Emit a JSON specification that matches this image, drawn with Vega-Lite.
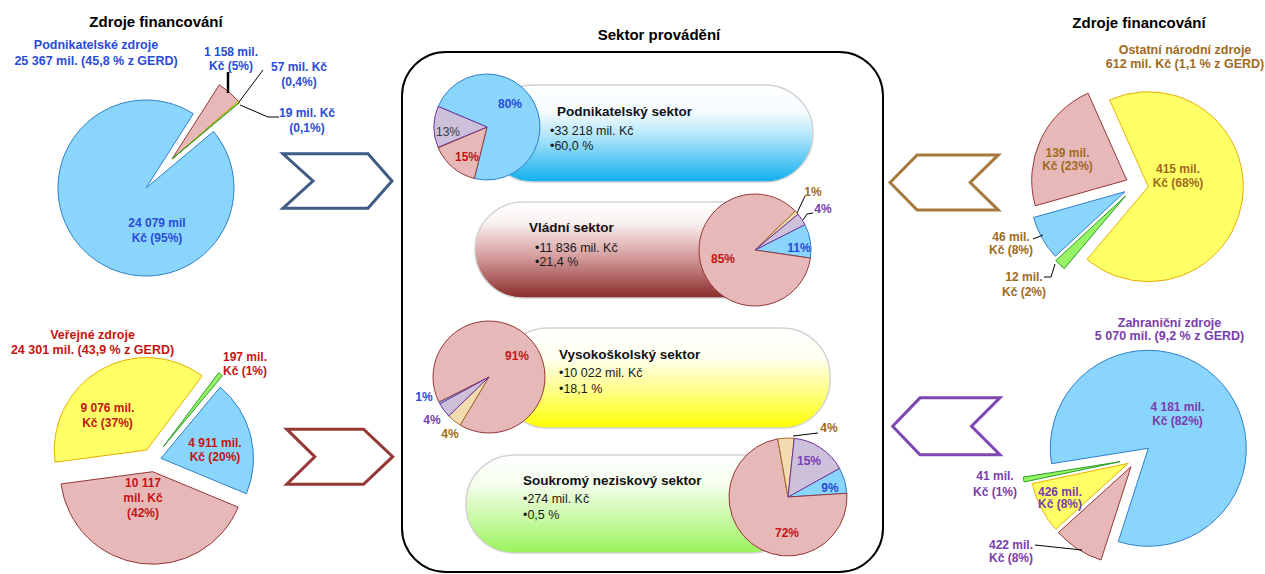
{
"$schema":"https://vega.github.io/schema/vega-lite/v6.json",
"width":1265,"height":574,"padding":0,
"autosize":{"type":"fit","contains":"padding"},
"background":"#ffffff",
"config":{"view":{"stroke":null},"legend":{"disable":true},"axis":{"disable":true},"font":"Liberation Sans","text":{"font":"Liberation Sans"}},
"datasets":{
"flows":[
{"source":"Podnikatelské zdroje","sector":"Podnikatelský sektor","value":24079,"sector_rank":2,"source_rank":2,"outer":"24 079 mil\nKč (95%)","inner":"80%"},
{"source":"Podnikatelské zdroje","sector":"Vládní sektor","value":1158,"sector_rank":3,"source_rank":2,"outer":"1 158 mil.\nKč (5%)","inner":"11%"},
{"source":"Podnikatelské zdroje","sector":"Vysokoškolský sektor","value":57,"sector_rank":0,"source_rank":2,"outer":"57 mil. Kč\n(0,4%)","inner":"1%"},
{"source":"Podnikatelské zdroje","sector":"Soukromý neziskový sektor","value":19,"sector_rank":1,"source_rank":2,"outer":"19 mil. Kč\n(0,1%)","inner":"9%"},
{"source":"Veřejné zdroje","sector":"Podnikatelský sektor","value":4911,"sector_rank":2,"source_rank":3,"outer":"4 911 mil.\nKč (20%)","inner":"15%"},
{"source":"Veřejné zdroje","sector":"Vládní sektor","value":10117,"sector_rank":3,"source_rank":3,"outer":"10 117\nmil. Kč\n(42%)","inner":"85%"},
{"source":"Veřejné zdroje","sector":"Vysokoškolský sektor","value":9076,"sector_rank":0,"source_rank":3,"outer":"9 076 mil.\nKč (37%)","inner":"91%"},
{"source":"Veřejné zdroje","sector":"Soukromý neziskový sektor","value":197,"sector_rank":1,"source_rank":3,"outer":"197 mil.\nKč (1%)","inner":"72%"},
{"source":"Ostatní národní zdroje","sector":"Podnikatelský sektor","value":46,"sector_rank":2,"source_rank":0,"outer":"46 mil.\nKč (8%)","inner":""},
{"source":"Ostatní národní zdroje","sector":"Vládní sektor","value":139,"sector_rank":3,"source_rank":0,"outer":"139 mil.\nKč (23%)","inner":"1%"},
{"source":"Ostatní národní zdroje","sector":"Vysokoškolský sektor","value":415,"sector_rank":0,"source_rank":0,"outer":"415 mil.\nKč (68%)","inner":"4%"},
{"source":"Ostatní národní zdroje","sector":"Soukromý neziskový sektor","value":12,"sector_rank":1,"source_rank":0,"outer":"12 mil.\nKč (2%)","inner":"4%"},
{"source":"Zahraniční zdroje","sector":"Podnikatelský sektor","value":4181,"sector_rank":2,"source_rank":1,"outer":"4 181 mil.\nKč (82%)","inner":"13%"},
{"source":"Zahraniční zdroje","sector":"Vládní sektor","value":422,"sector_rank":3,"source_rank":1,"outer":"422 mil.\nKč (8%)","inner":"4%"},
{"source":"Zahraniční zdroje","sector":"Vysokoškolský sektor","value":426,"sector_rank":0,"source_rank":1,"outer":"426 mil.\nKč (8%)","inner":"4%"},
{"source":"Zahraniční zdroje","sector":"Soukromý neziskový sektor","value":41,"sector_rank":1,"source_rank":1,"outer":"41 mil.\nKč (1%)","inner":"15%"}
],
"sources":[
{"source":"Podnikatelské zdroje","heading":"Podnikatelské zdroje\n25 367 mil. (45,8 % z GERD)"},
{"source":"Veřejné zdroje","heading":"Veřejné zdroje\n24 301 mil. (43,9 % z GERD)"},
{"source":"Ostatní národní zdroje","heading":"Ostatní národní  zdroje\n612 mil. Kč (1,1 % z GERD)"},
{"source":"Zahraniční zdroje","heading":"Zahraniční zdroje\n5 070 mil. (9,2 % z GERD)"}
],
"sectors":[
{"sector":"Podnikatelský sektor","bullets":"•33 218 mil. Kč\n•60,0 %"},
{"sector":"Vládní sektor","bullets":"•11 836 mil. Kč\n•21,4  %"},
{"sector":"Vysokoškolský sektor","bullets":"•10 022 mil. Kč\n•18,1 %"},
{"sector":"Soukromý neziskový sektor","bullets":"•274 mil. Kč\n•0,5 %"}
],
"headers":[
{"key":"src_left","text":"Zdroje financování"},
{"key":"perf","text":"Sektor provádění"},
{"key":"src_right","text":"Zdroje financování"}
],
"frame":[{"item":"decor"}]
},
"resolve":{"scale":{"theta":"independent"}},
"layer":[
{"data":{"name":"frame"},"mark":{"type":"rect","cornerRadius":44,"fill":"#ffffff","stroke":"#000000","strokeWidth":2},"encoding":{"x":{"datum":402,"type":"quantitative","scale":{"domain":[0,1265],"nice":false,"zero":false},"axis":null},"x2":{"datum":883},"y":{"datum":52,"type":"quantitative","scale":{"domain":[0,574],"nice":false,"zero":false,"reverse":true},"axis":null},"y2":{"datum":572}}},

{"data":{"name":"sectors"},"transform":[{"filter":"datum.sector==='Podnikatelský sektor'"}],"mark":{"type":"rect","cornerRadius":48,"stroke":"#d2d2d2","strokeWidth":1.5,"fill":{"gradient":"linear","x1":0,"y1":0,"x2":0,"y2":1,"stops":[{"offset":0,"color":"#ffffff"},{"offset":0.28,"color":"#f4fcff"},{"offset":0.5,"color":"#b8e8fb"},{"offset":1,"color":"#10afee"}]}},"encoding":{"x":{"datum":485},"x2":{"datum":813},"y":{"datum":85},"y2":{"datum":182}}},
{"data":{"name":"sectors"},"transform":[{"filter":"datum.sector==='Vládní sektor'"}],"mark":{"type":"rect","cornerRadius":48,"stroke":"#d2d2d2","strokeWidth":1.5,"fill":{"gradient":"linear","x1":0,"y1":0,"x2":0,"y2":1,"stops":[{"offset":0,"color":"#ffffff"},{"offset":0.2,"color":"#fbf3f3"},{"offset":0.55,"color":"#d8a2a2"},{"offset":1,"color":"#8a2a2a"}]}},"encoding":{"x":{"datum":475},"x2":{"datum":792},"y":{"datum":202},"y2":{"datum":298}}},
{"data":{"name":"sectors"},"transform":[{"filter":"datum.sector==='Vysokoškolský sektor'"}],"mark":{"type":"rect","cornerRadius":48,"stroke":"#d2d2d2","strokeWidth":1.5,"fill":{"gradient":"linear","x1":0,"y1":0,"x2":0,"y2":1,"stops":[{"offset":0,"color":"#ffffff"},{"offset":0.3,"color":"#fffff0"},{"offset":0.65,"color":"#ffff80"},{"offset":1,"color":"#ffff00"}]}},"encoding":{"x":{"datum":500},"x2":{"datum":830},"y":{"datum":328},"y2":{"datum":428}}},
{"data":{"name":"sectors"},"transform":[{"filter":"datum.sector==='Soukromý neziskový sektor'"}],"mark":{"type":"rect","cornerRadius":48,"stroke":"#d2d2d2","strokeWidth":1.5,"fill":{"gradient":"linear","x1":0,"y1":0,"x2":0,"y2":1,"stops":[{"offset":0,"color":"#ffffff"},{"offset":0.3,"color":"#f4fdec"},{"offset":0.65,"color":"#c8f9a4"},{"offset":1,"color":"#98f35c"}]}},"encoding":{"x":{"datum":466},"x2":{"datum":800},"y":{"datum":455},"y2":{"datum":553}}},

{"data":{"name":"flows"},"transform":[{"filter":"datum.sector==='Podnikatelský sektor'"}],"mark":{"type":"arc","outerRadius":53,"strokeWidth":1},"encoding":{"x":{"datum":487},"y":{"datum":127},"theta":{"field":"value","type":"quantitative","stack":"normalize","scale":{"domain":[0,1],"range":[4.311,10.5942]}},"order":{"field":"source_rank","type":"quantitative"},"color":{"field":"source","type":"nominal","scale":{"domain":["Podnikatelský sektor","Vládní sektor","Vysokoškolský sektor","Soukromý neziskový sektor","Podnikatelské zdroje","Veřejné zdroje","Ostatní národní zdroje","Zahraniční zdroje"],"range":["#8ad5fc","#e6b9b8","#ffff66","#96f564","#8ad5fc","#e6b9b8","#f3dbb0","#ccc0da"]}},"stroke":{"field":"source","type":"nominal","scale":{"domain":["Podnikatelský sektor","Vládní sektor","Vysokoškolský sektor","Soukromý neziskový sektor","Podnikatelské zdroje","Veřejné zdroje","Ostatní národní zdroje","Zahraniční zdroje"],"range":["#2f7fcf","#953735","#e8b000","#2a9d2a","#2f7fcf","#953735","#a56f28","#7030a0"]}}}},
{"data":{"name":"flows"},"transform":[{"filter":"datum.sector==='Vládní sektor'"}],"mark":{"type":"arc","outerRadius":56,"strokeWidth":1},"encoding":{"x":{"datum":755},"y":{"datum":250},"theta":{"field":"value","type":"quantitative","stack":"normalize","scale":{"domain":[0,1],"range":[0.8029,7.0861]}},"order":{"field":"source_rank","type":"quantitative"},"color":{"field":"source","type":"nominal"},"stroke":{"field":"source","type":"nominal"}}},
{"data":{"name":"flows"},"transform":[{"filter":"datum.sector==='Vysokoškolský sektor'"}],"mark":{"type":"arc","outerRadius":56,"strokeWidth":1},"encoding":{"x":{"datum":489},"y":{"datum":377},"theta":{"field":"value","type":"quantitative","stack":"normalize","scale":{"domain":[0,1],"range":[3.6826,9.9658]}},"order":{"field":"source_rank","type":"quantitative"},"color":{"field":"source","type":"nominal"},"stroke":{"field":"source","type":"nominal"}}},
{"data":{"name":"flows"},"transform":[{"filter":"datum.sector==='Soukromý neziskový sektor'"}],"mark":{"type":"arc","outerRadius":59,"strokeWidth":1},"encoding":{"x":{"datum":788},"y":{"datum":497},"theta":{"field":"value","type":"quantitative","stack":"normalize","scale":{"domain":[0,1],"range":[6.1087,12.3919]}},"order":{"field":"source_rank","type":"quantitative"},"color":{"field":"source","type":"nominal"},"stroke":{"field":"source","type":"nominal"}}},

{"data":{"name":"flows"},"transform":[{"filter":"datum.source==='Podnikatelské zdroje'"}],"mark":{"type":"arc","outerRadius":88,"strokeWidth":1},"encoding":{"x":{"datum":146},"y":{"datum":188},"theta":{"field":"value","type":"quantitative","stack":"normalize","scale":{"domain":[0,1],"range":[0.8552,7.1384]}},"order":{"field":"sector_rank","type":"quantitative"},"color":{"field":"sector","type":"nominal"},"stroke":{"field":"sector","type":"nominal"},"opacity":{"condition":{"test":"datum.sector==='Podnikatelský sektor'","value":1},"value":0}}},
{"data":{"name":"flows"},"transform":[{"filter":"datum.source==='Podnikatelské zdroje'"}],"mark":{"type":"arc","outerRadius":88,"strokeWidth":1},"encoding":{"x":{"datum":172},"y":{"datum":159},"theta":{"field":"value","type":"quantitative","stack":"normalize","scale":{"domain":[0,1],"range":[0.8552,7.1384]}},"order":{"field":"sector_rank","type":"quantitative"},"color":{"field":"sector","type":"nominal"},"stroke":{"field":"sector","type":"nominal"},"opacity":{"condition":{"test":"datum.sector!=='Podnikatelský sektor'","value":1},"value":0}}},

{"data":{"name":"flows"},"transform":[{"filter":"datum.source==='Veřejné zdroje'"}],"mark":{"type":"arc","outerRadius":92.5,"strokeWidth":1},"encoding":{"x":{"datum":146.7},"y":{"datum":450},"theta":{"field":"value","type":"quantitative","stack":"normalize","scale":{"domain":[0,1],"range":[4.5797,10.8629]}},"order":{"field":"sector_rank","type":"quantitative"},"color":{"field":"sector","type":"nominal"},"stroke":{"field":"sector","type":"nominal"},"opacity":{"condition":{"test":"datum.sector==='Vysokoškolský sektor'","value":1},"value":0}}},
{"data":{"name":"flows"},"transform":[{"filter":"datum.source==='Veřejné zdroje'"}],"mark":{"type":"arc","outerRadius":92.5,"strokeWidth":1},"encoding":{"x":{"datum":163.3},"y":{"datum":446.7},"theta":{"field":"value","type":"quantitative","stack":"normalize","scale":{"domain":[0,1],"range":[4.5797,10.8629]}},"order":{"field":"sector_rank","type":"quantitative"},"color":{"field":"sector","type":"nominal"},"stroke":{"field":"sector","type":"nominal"},"opacity":{"condition":{"test":"datum.sector==='Soukromý neziskový sektor'","value":1},"value":0}}},
{"data":{"name":"flows"},"transform":[{"filter":"datum.source==='Veřejné zdroje'"}],"mark":{"type":"arc","outerRadius":92.5,"strokeWidth":1},"encoding":{"x":{"datum":161},"y":{"datum":458.3},"theta":{"field":"value","type":"quantitative","stack":"normalize","scale":{"domain":[0,1],"range":[4.5797,10.8629]}},"order":{"field":"sector_rank","type":"quantitative"},"color":{"field":"sector","type":"nominal"},"stroke":{"field":"sector","type":"nominal"},"opacity":{"condition":{"test":"datum.sector==='Podnikatelský sektor'","value":1},"value":0}}},
{"data":{"name":"flows"},"transform":[{"filter":"datum.source==='Veřejné zdroje'"}],"mark":{"type":"arc","outerRadius":92.5,"strokeWidth":1},"encoding":{"x":{"datum":152.7},"y":{"datum":471.7},"theta":{"field":"value","type":"quantitative","stack":"normalize","scale":{"domain":[0,1],"range":[4.5797,10.8629]}},"order":{"field":"sector_rank","type":"quantitative"},"color":{"field":"sector","type":"nominal"},"stroke":{"field":"sector","type":"nominal"},"opacity":{"condition":{"test":"datum.sector==='Vládní sektor'","value":1},"value":0}}},

{"data":{"name":"flows"},"transform":[{"filter":"datum.source==='Ostatní národní zdroje'"}],"mark":{"type":"arc","outerRadius":95,"strokeWidth":1},"encoding":{"x":{"datum":1148.3},"y":{"datum":186.7},"theta":{"field":"value","type":"quantitative","stack":"normalize","scale":{"domain":[0,1],"range":[5.8643,12.1475]}},"order":{"field":"sector_rank","type":"quantitative"},"color":{"field":"sector","type":"nominal"},"stroke":{"field":"sector","type":"nominal"},"opacity":{"condition":{"test":"datum.sector==='Vysokoškolský sektor'","value":1},"value":0}}},
{"data":{"name":"flows"},"transform":[{"filter":"datum.source==='Ostatní národní zdroje'"}],"mark":{"type":"arc","outerRadius":95,"strokeWidth":1},"encoding":{"x":{"datum":1126.7},"y":{"datum":180},"theta":{"field":"value","type":"quantitative","stack":"normalize","scale":{"domain":[0,1],"range":[5.8643,12.1475]}},"order":{"field":"sector_rank","type":"quantitative"},"color":{"field":"sector","type":"nominal"},"stroke":{"field":"sector","type":"nominal"},"opacity":{"condition":{"test":"datum.sector==='Vládní sektor'","value":1},"value":0}}},
{"data":{"name":"flows"},"transform":[{"filter":"datum.source==='Ostatní národní zdroje'"}],"mark":{"type":"arc","outerRadius":95,"strokeWidth":1},"encoding":{"x":{"datum":1125},"y":{"datum":191.7},"theta":{"field":"value","type":"quantitative","stack":"normalize","scale":{"domain":[0,1],"range":[5.8643,12.1475]}},"order":{"field":"sector_rank","type":"quantitative"},"color":{"field":"sector","type":"nominal"},"stroke":{"field":"sector","type":"nominal"},"opacity":{"condition":{"test":"datum.sector==='Podnikatelský sektor'","value":1},"value":0}}},
{"data":{"name":"flows"},"transform":[{"filter":"datum.source==='Ostatní národní zdroje'"}],"mark":{"type":"arc","outerRadius":95,"strokeWidth":1},"encoding":{"x":{"datum":1125.5},"y":{"datum":196},"theta":{"field":"value","type":"quantitative","stack":"normalize","scale":{"domain":[0,1],"range":[5.8643,12.1475]}},"order":{"field":"sector_rank","type":"quantitative"},"color":{"field":"sector","type":"nominal"},"stroke":{"field":"sector","type":"nominal"},"opacity":{"condition":{"test":"datum.sector==='Soukromý neziskový sektor'","value":1},"value":0}}},

{"data":{"name":"flows"},"transform":[{"filter":"datum.source==='Zahraniční zdroje'"}],"mark":{"type":"arc","outerRadius":98,"strokeWidth":1},"encoding":{"x":{"datum":1148.3},"y":{"datum":448.3},"theta":{"field":"value","type":"quantitative","stack":"normalize","scale":{"domain":[0,1],"range":[3.9758,10.259]}},"order":{"field":"sector_rank","type":"quantitative"},"color":{"field":"sector","type":"nominal"},"stroke":{"field":"sector","type":"nominal"},"opacity":{"condition":{"test":"datum.sector==='Podnikatelský sektor'","value":1},"value":0}}},
{"data":{"name":"flows"},"transform":[{"filter":"datum.source==='Zahraniční zdroje'"}],"mark":{"type":"arc","outerRadius":98,"strokeWidth":1},"encoding":{"x":{"datum":1131},"y":{"datum":466.7},"theta":{"field":"value","type":"quantitative","stack":"normalize","scale":{"domain":[0,1],"range":[3.9758,10.259]}},"order":{"field":"sector_rank","type":"quantitative"},"color":{"field":"sector","type":"nominal"},"stroke":{"field":"sector","type":"nominal"},"opacity":{"condition":{"test":"datum.sector==='Vládní sektor'","value":1},"value":0}}},
{"data":{"name":"flows"},"transform":[{"filter":"datum.source==='Zahraniční zdroje'"}],"mark":{"type":"arc","outerRadius":98,"strokeWidth":1},"encoding":{"x":{"datum":1128.3},"y":{"datum":463.3},"theta":{"field":"value","type":"quantitative","stack":"normalize","scale":{"domain":[0,1],"range":[3.9758,10.259]}},"order":{"field":"sector_rank","type":"quantitative"},"color":{"field":"sector","type":"nominal"},"stroke":{"field":"sector","type":"nominal"},"opacity":{"condition":{"test":"datum.sector==='Vysokoškolský sektor'","value":1},"value":0}}},
{"data":{"name":"flows"},"transform":[{"filter":"datum.source==='Zahraniční zdroje'"}],"mark":{"type":"arc","outerRadius":98,"strokeWidth":1},"encoding":{"x":{"datum":1120},"y":{"datum":461.7},"theta":{"field":"value","type":"quantitative","stack":"normalize","scale":{"domain":[0,1],"range":[3.9758,10.259]}},"order":{"field":"sector_rank","type":"quantitative"},"color":{"field":"sector","type":"nominal"},"stroke":{"field":"sector","type":"nominal"},"opacity":{"condition":{"test":"datum.sector==='Soukromý neziskový sektor'","value":1},"value":0}}},

{"data":{"name":"sources"},"transform":[{"filter":"datum.source==='Podnikatelské zdroje'"}],"mark":{"type":"point","shape":"M-1,-0.5L0.56,-0.5L1,0L0.56,0.5L-1,0.5L-0.45,0Z","size":11881,"filled":false,"opacity":1,"stroke":"#3e5b85","strokeWidth":3,"strokeJoin":"miter"},"encoding":{"x":{"datum":337.5},"y":{"datum":181}}},
{"data":{"name":"sources"},"transform":[{"filter":"datum.source==='Veřejné zdroje'"}],"mark":{"type":"point","shape":"M-1,-0.52L0.45,-0.52L1,0L0.45,0.52L-1,0.52L-0.47,0Z","size":11236,"filled":false,"opacity":1,"stroke":"#953735","strokeWidth":3,"strokeJoin":"miter"},"encoding":{"x":{"datum":339.7},"y":{"datum":456.7}}},
{"data":{"name":"sources"},"transform":[{"filter":"datum.source==='Ostatní národní zdroje'"}],"mark":{"type":"point","shape":"M-1,0L-0.5,-0.51L1,-0.51L0.48,0L1,0.51L-0.5,0.51Z","size":11729,"filled":false,"opacity":1,"stroke":"#a8793f","strokeWidth":3,"strokeJoin":"miter"},"encoding":{"x":{"datum":944.2},"y":{"datum":182.5}}},
{"data":{"name":"sources"},"transform":[{"filter":"datum.source==='Zahraniční zdroje'"}],"mark":{"type":"point","shape":"M-1,0L-0.49,-0.53L1,-0.53L0.47,0L1,0.53L-0.49,0.53Z","size":11513,"filled":false,"opacity":1,"stroke":"#7f45b0","strokeWidth":3,"strokeJoin":"miter"},"encoding":{"x":{"datum":946.3},"y":{"datum":426.3}}},

{"data":{"name":"headers"},"transform":[{"filter":"datum.key==='src_left'"}],"mark":{"type":"text","fontWeight":"bold","fontSize":15,"color":"#000000"},"encoding":{"x":{"datum":156},"y":{"datum":21.7},"text":{"field":"text"}}},
{"data":{"name":"headers"},"transform":[{"filter":"datum.key==='perf'"}],"mark":{"type":"text","fontWeight":"bold","fontSize":15,"color":"#000000"},"encoding":{"x":{"datum":659},"y":{"datum":35},"text":{"field":"text"}}},
{"data":{"name":"headers"},"transform":[{"filter":"datum.key==='src_right'"}],"mark":{"type":"text","fontWeight":"bold","fontSize":15,"color":"#000000"},"encoding":{"x":{"datum":1139},"y":{"datum":22.7},"text":{"field":"text"}}},

{"data":{"name":"sources"},"transform":[{"filter":"datum.source==='Podnikatelské zdroje'"}],"mark":{"type":"text","fontWeight":"bold","fontSize":12.5,"color":"#2a4bd7","lineBreak":"\n","lineHeight":15.5},"encoding":{"x":{"datum":96},"y":{"datum":45},"text":{"field":"heading"}}},
{"data":{"name":"sources"},"transform":[{"filter":"datum.source==='Veřejné zdroje'"}],"mark":{"type":"text","fontWeight":"bold","fontSize":12.5,"color":"#c41414","lineBreak":"\n","lineHeight":15},"encoding":{"x":{"datum":92.5},"y":{"datum":335},"text":{"field":"heading"}}},
{"data":{"name":"sources"},"transform":[{"filter":"datum.source==='Ostatní národní zdroje'"}],"mark":{"type":"text","fontWeight":"bold","fontSize":12.5,"color":"#a06a1e","lineBreak":"\n","lineHeight":14},"encoding":{"x":{"datum":1185},"y":{"datum":50},"text":{"field":"heading"}}},
{"data":{"name":"sources"},"transform":[{"filter":"datum.source==='Zahraniční zdroje'"}],"mark":{"type":"text","fontWeight":"bold","fontSize":12.5,"color":"#7a3dac","lineBreak":"\n","lineHeight":13},"encoding":{"x":{"datum":1169.5},"y":{"datum":323.3},"text":{"field":"heading"}}},

{"data":{"name":"flows"},"transform":[{"filter":"datum.source==='Podnikatelské zdroje'&&datum.sector==='Podnikatelský sektor'"}],"mark":{"type":"text","fontWeight":"bold","fontSize":12,"color":"#2a4bd7","lineBreak":"\n","lineHeight":15},"encoding":{"x":{"datum":157},"y":{"datum":223},"text":{"field":"outer"}}},
{"data":{"name":"flows"},"transform":[{"filter":"datum.source==='Podnikatelské zdroje'&&datum.sector==='Vládní sektor'"}],"mark":{"type":"text","fontWeight":"bold","fontSize":12,"color":"#2a4bd7","lineBreak":"\n","lineHeight":13.5},"encoding":{"x":{"datum":231},"y":{"datum":52},"text":{"field":"outer"}}},
{"data":{"name":"flows"},"transform":[{"filter":"datum.source==='Podnikatelské zdroje'&&datum.sector==='Vysokoškolský sektor'"}],"mark":{"type":"text","fontWeight":"bold","fontSize":12,"color":"#2a4bd7","lineBreak":"\n","lineHeight":15},"encoding":{"x":{"datum":299},"y":{"datum":67},"text":{"field":"outer"}}},
{"data":{"name":"flows"},"transform":[{"filter":"datum.source==='Podnikatelské zdroje'&&datum.sector==='Soukromý neziskový sektor'"}],"mark":{"type":"text","fontWeight":"bold","fontSize":12,"color":"#2a4bd7","lineBreak":"\n","lineHeight":15},"encoding":{"x":{"datum":307},"y":{"datum":113},"text":{"field":"outer"}}},

{"data":{"name":"flows"},"transform":[{"filter":"datum.source==='Veřejné zdroje'&&datum.sector==='Soukromý neziskový sektor'"}],"mark":{"type":"text","fontWeight":"bold","fontSize":12,"color":"#c41414","lineBreak":"\n","lineHeight":14},"encoding":{"x":{"datum":245},"y":{"datum":356.7},"text":{"field":"outer"}}},
{"data":{"name":"flows"},"transform":[{"filter":"datum.source==='Veřejné zdroje'&&datum.sector==='Vysokoškolský sektor'"}],"mark":{"type":"text","fontWeight":"bold","fontSize":12,"color":"#c41414","lineBreak":"\n","lineHeight":14.5},"encoding":{"x":{"datum":107.5},"y":{"datum":408.3},"text":{"field":"outer"}}},
{"data":{"name":"flows"},"transform":[{"filter":"datum.source==='Veřejné zdroje'&&datum.sector==='Podnikatelský sektor'"}],"mark":{"type":"text","fontWeight":"bold","fontSize":12,"color":"#c41414","lineBreak":"\n","lineHeight":13.5},"encoding":{"x":{"datum":215},"y":{"datum":443.3},"text":{"field":"outer"}}},
{"data":{"name":"flows"},"transform":[{"filter":"datum.source==='Veřejné zdroje'&&datum.sector==='Vládní sektor'"}],"mark":{"type":"text","fontWeight":"bold","fontSize":12,"color":"#c41414","lineBreak":"\n","lineHeight":15},"encoding":{"x":{"datum":143},"y":{"datum":483.3},"text":{"field":"outer"}}},

{"data":{"name":"flows"},"transform":[{"filter":"datum.source==='Ostatní národní zdroje'&&datum.sector==='Vládní sektor'"}],"mark":{"type":"text","fontWeight":"bold","fontSize":12,"color":"#a06a1e","lineBreak":"\n","lineHeight":13},"encoding":{"x":{"datum":1067.5},"y":{"datum":153.3},"text":{"field":"outer"}}},
{"data":{"name":"flows"},"transform":[{"filter":"datum.source==='Ostatní národní zdroje'&&datum.sector==='Vysokoškolský sektor'"}],"mark":{"type":"text","fontWeight":"bold","fontSize":12,"color":"#a06a1e","lineBreak":"\n","lineHeight":13.5},"encoding":{"x":{"datum":1178},"y":{"datum":169.3},"text":{"field":"outer"}}},
{"data":{"name":"flows"},"transform":[{"filter":"datum.source==='Ostatní národní zdroje'&&datum.sector==='Podnikatelský sektor'"}],"mark":{"type":"text","fontWeight":"bold","fontSize":12,"color":"#a06a1e","lineBreak":"\n","lineHeight":13.5},"encoding":{"x":{"datum":1011},"y":{"datum":236.7},"text":{"field":"outer"}}},
{"data":{"name":"flows"},"transform":[{"filter":"datum.source==='Ostatní národní zdroje'&&datum.sector==='Soukromý neziskový sektor'"}],"mark":{"type":"text","fontWeight":"bold","fontSize":12,"color":"#a06a1e","lineBreak":"\n","lineHeight":15},"encoding":{"x":{"datum":1024},"y":{"datum":276.7},"text":{"field":"outer"}}},

{"data":{"name":"flows"},"transform":[{"filter":"datum.source==='Zahraniční zdroje'&&datum.sector==='Podnikatelský sektor'"}],"mark":{"type":"text","fontWeight":"bold","fontSize":12,"color":"#7a3dac","lineBreak":"\n","lineHeight":13.5},"encoding":{"x":{"datum":1177.5},"y":{"datum":407.3},"text":{"field":"outer"}}},
{"data":{"name":"flows"},"transform":[{"filter":"datum.source==='Zahraniční zdroje'&&datum.sector==='Soukromý neziskový sektor'"}],"mark":{"type":"text","fontWeight":"bold","fontSize":12,"color":"#7a3dac","lineBreak":"\n","lineHeight":15.5},"encoding":{"x":{"datum":995},"y":{"datum":476},"text":{"field":"outer"}}},
{"data":{"name":"flows"},"transform":[{"filter":"datum.source==='Zahraniční zdroje'&&datum.sector==='Vysokoškolský sektor'"}],"mark":{"type":"text","fontWeight":"bold","fontSize":12,"color":"#7a3dac","lineBreak":"\n","lineHeight":12.5},"encoding":{"x":{"datum":1060},"y":{"datum":491.7},"text":{"field":"outer"}}},
{"data":{"name":"flows"},"transform":[{"filter":"datum.source==='Zahraniční zdroje'&&datum.sector==='Vládní sektor'"}],"mark":{"type":"text","fontWeight":"bold","fontSize":12,"color":"#7a3dac","lineBreak":"\n","lineHeight":13.3},"encoding":{"x":{"datum":1011},"y":{"datum":545},"text":{"field":"outer"}}},

{"data":{"name":"flows"},"transform":[{"filter":"datum.sector==='Podnikatelský sektor'&&datum.source==='Podnikatelské zdroje'"}],"mark":{"type":"text","fontWeight":"bold","fontSize":12,"color":"#2a4bd7"},"encoding":{"x":{"datum":510},"y":{"datum":104},"text":{"field":"inner"}}},
{"data":{"name":"flows"},"transform":[{"filter":"datum.sector==='Podnikatelský sektor'&&datum.source==='Veřejné zdroje'"}],"mark":{"type":"text","fontWeight":"bold","fontSize":12,"color":"#c41414"},"encoding":{"x":{"datum":467},"y":{"datum":157},"text":{"field":"inner"}}},
{"data":{"name":"flows"},"transform":[{"filter":"datum.sector==='Podnikatelský sektor'&&datum.source==='Zahraniční zdroje'"}],"mark":{"type":"text","fontSize":12,"color":"#3a3a3a"},"encoding":{"x":{"datum":448},"y":{"datum":132},"text":{"field":"inner"}}},

{"data":{"name":"flows"},"transform":[{"filter":"datum.sector==='Vládní sektor'&&datum.source==='Veřejné zdroje'"}],"mark":{"type":"text","fontWeight":"bold","fontSize":12,"color":"#c41414"},"encoding":{"x":{"datum":723},"y":{"datum":259},"text":{"field":"inner"}}},
{"data":{"name":"flows"},"transform":[{"filter":"datum.sector==='Vládní sektor'&&datum.source==='Podnikatelské zdroje'"}],"mark":{"type":"text","fontWeight":"bold","fontSize":12,"color":"#2a4bd7"},"encoding":{"x":{"datum":799},"y":{"datum":248},"text":{"field":"inner"}}},
{"data":{"name":"flows"},"transform":[{"filter":"datum.sector==='Vládní sektor'&&datum.source==='Zahraniční zdroje'"}],"mark":{"type":"text","fontWeight":"bold","fontSize":12,"color":"#7a3dac"},"encoding":{"x":{"datum":823},"y":{"datum":209},"text":{"field":"inner"}}},
{"data":{"name":"flows"},"transform":[{"filter":"datum.sector==='Vládní sektor'&&datum.source==='Ostatní národní zdroje'"}],"mark":{"type":"text","fontWeight":"bold","fontSize":12,"color":"#a06a1e"},"encoding":{"x":{"datum":813},"y":{"datum":192},"text":{"field":"inner"}}},

{"data":{"name":"flows"},"transform":[{"filter":"datum.sector==='Vysokoškolský sektor'&&datum.source==='Veřejné zdroje'"}],"mark":{"type":"text","fontWeight":"bold","fontSize":12,"color":"#c41414"},"encoding":{"x":{"datum":517},"y":{"datum":356},"text":{"field":"inner"}}},
{"data":{"name":"flows"},"transform":[{"filter":"datum.sector==='Vysokoškolský sektor'&&datum.source==='Podnikatelské zdroje'"}],"mark":{"type":"text","fontWeight":"bold","fontSize":12,"color":"#2a4bd7"},"encoding":{"x":{"datum":424},"y":{"datum":397},"text":{"field":"inner"}}},
{"data":{"name":"flows"},"transform":[{"filter":"datum.sector==='Vysokoškolský sektor'&&datum.source==='Zahraniční zdroje'"}],"mark":{"type":"text","fontWeight":"bold","fontSize":12,"color":"#7a3dac"},"encoding":{"x":{"datum":432},"y":{"datum":420},"text":{"field":"inner"}}},
{"data":{"name":"flows"},"transform":[{"filter":"datum.sector==='Vysokoškolský sektor'&&datum.source==='Ostatní národní zdroje'"}],"mark":{"type":"text","fontWeight":"bold","fontSize":12,"color":"#a06a1e"},"encoding":{"x":{"datum":450},"y":{"datum":434},"text":{"field":"inner"}}},

{"data":{"name":"flows"},"transform":[{"filter":"datum.sector==='Soukromý neziskový sektor'&&datum.source==='Veřejné zdroje'"}],"mark":{"type":"text","fontWeight":"bold","fontSize":12,"color":"#c41414"},"encoding":{"x":{"datum":787},"y":{"datum":533},"text":{"field":"inner"}}},
{"data":{"name":"flows"},"transform":[{"filter":"datum.sector==='Soukromý neziskový sektor'&&datum.source==='Podnikatelské zdroje'"}],"mark":{"type":"text","fontWeight":"bold","fontSize":12,"color":"#2a4bd7"},"encoding":{"x":{"datum":830},"y":{"datum":488},"text":{"field":"inner"}}},
{"data":{"name":"flows"},"transform":[{"filter":"datum.sector==='Soukromý neziskový sektor'&&datum.source==='Zahraniční zdroje'"}],"mark":{"type":"text","fontWeight":"bold","fontSize":12,"color":"#7a3dac"},"encoding":{"x":{"datum":809},"y":{"datum":461},"text":{"field":"inner"}}},
{"data":{"name":"flows"},"transform":[{"filter":"datum.sector==='Soukromý neziskový sektor'&&datum.source==='Ostatní národní zdroje'"}],"mark":{"type":"text","fontWeight":"bold","fontSize":12,"color":"#a06a1e"},"encoding":{"x":{"datum":829},"y":{"datum":428},"text":{"field":"inner"}}},

{"data":{"name":"sectors"},"transform":[{"filter":"datum.sector==='Podnikatelský sektor'"}],"mark":{"type":"text","fontWeight":"bold","fontSize":13.5,"align":"left","color":"#111111"},"encoding":{"x":{"datum":557},"y":{"datum":111.7},"text":{"field":"sector"}}},
{"data":{"name":"sectors"},"transform":[{"filter":"datum.sector==='Podnikatelský sektor'"}],"mark":{"type":"text","fontSize":12.5,"align":"left","color":"#1a1a1a","lineBreak":"\n","lineHeight":15.3},"encoding":{"x":{"datum":550},"y":{"datum":130.7},"text":{"field":"bullets"}}},
{"data":{"name":"sectors"},"transform":[{"filter":"datum.sector==='Vládní sektor'"}],"mark":{"type":"text","fontWeight":"bold","fontSize":13.5,"align":"left","color":"#111111"},"encoding":{"x":{"datum":529},"y":{"datum":228.3},"text":{"field":"sector"}}},
{"data":{"name":"sectors"},"transform":[{"filter":"datum.sector==='Vládní sektor'"}],"mark":{"type":"text","fontSize":12.5,"align":"left","color":"#1a1a1a","lineBreak":"\n","lineHeight":14},"encoding":{"x":{"datum":535},"y":{"datum":248.3},"text":{"field":"bullets"}}},
{"data":{"name":"sectors"},"transform":[{"filter":"datum.sector==='Vysokoškolský sektor'"}],"mark":{"type":"text","fontWeight":"bold","fontSize":13.5,"align":"left","color":"#111111"},"encoding":{"x":{"datum":559},"y":{"datum":355},"text":{"field":"sector"}}},
{"data":{"name":"sectors"},"transform":[{"filter":"datum.sector==='Vysokoškolský sektor'"}],"mark":{"type":"text","fontSize":12.5,"align":"left","color":"#1a1a1a","lineBreak":"\n","lineHeight":15.4},"encoding":{"x":{"datum":559},"y":{"datum":373.3},"text":{"field":"bullets"}}},
{"data":{"name":"sectors"},"transform":[{"filter":"datum.sector==='Soukromý neziskový sektor'"}],"mark":{"type":"text","fontWeight":"bold","fontSize":13.5,"align":"left","color":"#111111"},"encoding":{"x":{"datum":523},"y":{"datum":480.7},"text":{"field":"sector"}}},
{"data":{"name":"sectors"},"transform":[{"filter":"datum.sector==='Soukromý neziskový sektor'"}],"mark":{"type":"text","fontSize":12.5,"align":"left","color":"#1a1a1a","lineBreak":"\n","lineHeight":15.7},"encoding":{"x":{"datum":523},"y":{"datum":499.3},"text":{"field":"bullets"}}},

{"data":{"name":"frame"},"mark":{"type":"rule","color":"#000000","strokeWidth":2.5},"encoding":{"x":{"datum":228},"y":{"datum":72},"x2":{"datum":228},"y2":{"datum":93}}},
{"data":{"name":"frame"},"mark":{"type":"rule","color":"#000000","strokeWidth":1},"encoding":{"x":{"datum":263},"y":{"datum":70},"x2":{"datum":239},"y2":{"datum":102}}},
{"data":{"name":"frame"},"mark":{"type":"rule","color":"#000000","strokeWidth":1},"encoding":{"x":{"datum":240},"y":{"datum":105},"x2":{"datum":268},"y2":{"datum":117}}},
{"data":{"name":"frame"},"mark":{"type":"rule","color":"#000000","strokeWidth":1},"encoding":{"x":{"datum":268},"y":{"datum":117},"x2":{"datum":279},"y2":{"datum":117}}},
{"data":{"name":"frame"},"mark":{"type":"rule","color":"#000000","strokeWidth":1},"encoding":{"x":{"datum":1033},"y":{"datum":239},"x2":{"datum":1043},"y2":{"datum":235}}},
{"data":{"name":"frame"},"mark":{"type":"rule","color":"#000000","strokeWidth":1},"encoding":{"x":{"datum":1044},"y":{"datum":277},"x2":{"datum":1051},"y2":{"datum":277}}},
{"data":{"name":"frame"},"mark":{"type":"rule","color":"#000000","strokeWidth":1},"encoding":{"x":{"datum":1051},"y":{"datum":277},"x2":{"datum":1055},"y2":{"datum":264}}},
{"data":{"name":"frame"},"mark":{"type":"rule","color":"#000000","strokeWidth":1},"encoding":{"x":{"datum":1035},"y":{"datum":545},"x2":{"datum":1082},"y2":{"datum":550}}},
{"data":{"name":"frame"},"mark":{"type":"rule","color":"#000000","strokeWidth":1},"encoding":{"x":{"datum":805},"y":{"datum":196},"x2":{"datum":797},"y2":{"datum":213}}},
{"data":{"name":"frame"},"mark":{"type":"rule","color":"#000000","strokeWidth":1},"encoding":{"x":{"datum":813},"y":{"datum":213},"x2":{"datum":807},"y2":{"datum":214}}},
{"data":{"name":"frame"},"mark":{"type":"rule","color":"#000000","strokeWidth":1},"encoding":{"x":{"datum":807},"y":{"datum":214},"x2":{"datum":803},"y2":{"datum":220}}},
{"data":{"name":"frame"},"mark":{"type":"rule","color":"#000000","strokeWidth":1},"encoding":{"x":{"datum":793},"y":{"datum":436},"x2":{"datum":818},"y2":{"datum":433}}}
]
}
